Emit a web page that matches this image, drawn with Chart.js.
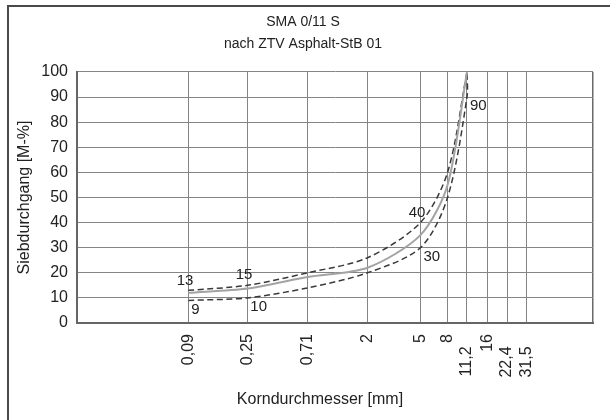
<!DOCTYPE html>
<html>
<head>
<meta charset="utf-8">
<title>SMA 0/11 S – Sieblinienbereich</title>
<style>
  html, body { margin: 0; padding: 0; background: #fff; }
  #box { width: 610px; height: 420px; }
</style>
<script src="https://cdn.jsdelivr.net/npm/chart.js@4"></script>
</head>
<body>
<div id="box"><canvas id="sieve" width="610" height="420"></canvas></div>
<script>
// Sieve sizes [mm] and passing percentages [M-%]
const sieveSizes    = [0.09, 0.25, 0.71, 2, 5, 8, 11.2];
const upperLimit    = [13, 15, 20, 26, 40, 60, 100];
const gradingCurve  = [12, 13.7, 18.3, 22, 35, 55, 100];
const lowerSizes    = [0.09, 0.25, 0.71, 2, 5, 8, 11.2, 11.2];
const lowerLimit    = [9, 10, 14, 20, 30, 50, 90, 100];

// Sieve sizes shown on the x axis and their labels
const axisSieves     = [0.09, 0.25, 0.71, 2, 5, 8, 11.2, 16, 22.4, 31.5];
const axisSieveNames = ['0,09', '0,25', '0,71', '2', '5', '8', '11,2', '16', '22,4', '31,5'];
const passingTicks   = [0, 10, 20, 30, 40, 50, 60, 70, 80, 90, 100];

const X_MIN = 0.0131, X_MAX = 99.2;
const FONT = '"Liberation Sans", Arial, Helvetica, sans-serif';

const toPoints = (xs, ys) => xs.map((x, i) => ({ x, y: ys[i] }));

// Frame and axis captions
const frameAndCaptions = {
  id: 'frameAndCaptions',
  beforeDraw(chart) {
    const { ctx, width, height } = chart;
    ctx.save();
    ctx.fillStyle = '#fff';
    ctx.fillRect(0, 0, width, height);
    ctx.strokeStyle = '#4a4a4a';
    ctx.lineWidth = 2;
    ctx.beginPath();
    ctx.moveTo(8, height);
    ctx.lineTo(8, 6);
    ctx.lineTo(width, 6);
    ctx.stroke();
    ctx.restore();
  },
  afterDraw(chart) {
    const { ctx, chartArea } = chart;
    ctx.save();
    ctx.font = '16px ' + FONT;
    ctx.fillStyle = '#222';
    ctx.textAlign = 'center';
    ctx.textBaseline = 'middle';
    ctx.fillText('Korndurchmesser [mm]', 320, 400);
    ctx.translate(25, (chartArea.top + chartArea.bottom) / 2);
    ctx.rotate(-Math.PI / 2);
    ctx.fillText('Siebdurchgang [M-%]', 0, 0);
    ctx.restore();
  }
};

// Value labels next to selected points of a dataset
const valueLabels = {
  id: 'valueLabels',
  afterDatasetsDraw(chart) {
    const { ctx } = chart;
    chart.data.datasets.forEach((ds, i) => {
      const cfg = ds.valueLabels;
      if (!cfg) return;
      const meta = chart.getDatasetMeta(i);
      ctx.save();
      ctx.font = '15px ' + FONT;
      ctx.fillStyle = '#222';
      ctx.textAlign = cfg.align;
      ctx.textBaseline = 'middle';
      cfg.indices.forEach(k => {
        const el = meta.data[k];
        const txt = String(ds.data[k].y).replace('.', ',');
        ctx.fillText(txt, el.x + cfg.dx, el.y + cfg.dy);
      });
      ctx.restore();
    });
  }
};

Chart.defaults.font.family = FONT;
Chart.defaults.color = '#222';

new Chart(document.getElementById('sieve'), {
  type: 'line',
  data: {
    datasets: [
      {
        label: 'Sieblinie',
        data: toPoints(sieveSizes, gradingCurve),
        borderColor: '#a3a3a3',
        borderWidth: 2,
        pointRadius: 0,
        tension: 0.28
      },
      {
        label: 'obere Grenze',
        data: toPoints(sieveSizes, upperLimit),
        borderColor: '#3a3a3a',
        borderWidth: 1.5,
        borderDash: [6, 3.5],
        pointRadius: 0,
        tension: 0.3,
        valueLabels: { indices: [0, 1, 4], align: 'right', dx: 5, dy: -10 }
      },
      {
        label: 'untere Grenze',
        data: toPoints(lowerSizes, lowerLimit),
        borderColor: '#3a3a3a',
        borderWidth: 1.5,
        borderDash: [6, 3.5],
        pointRadius: 0,
        tension: 0.3,
        valueLabels: { indices: [0, 1, 4, 6], align: 'left', dx: 3, dy: 9 }
      }
    ]
  },
  options: {
    responsive: false,
    animation: false,
    devicePixelRatio: 1,
    layout: { padding: { left: 0, right: 4, top: 0, bottom: 0 } },
    plugins: {
      legend: { display: false },
      tooltip: { enabled: false },
      title: {
        display: true,
        text: ['SMA 0/11 S', 'nach ZTV Asphalt-StB 01'],
        color: '#222',
        font: { size: 14, weight: 'normal', lineHeight: 1.57 },
        padding: { top: 11, bottom: 17 }
      }
    },
    scales: {
      x: {
        type: 'logarithmic',
        min: X_MIN,
        max: X_MAX,
        bounds: 'data',
        afterBuildTicks(scale) {
          scale.ticks = axisSieves.concat([X_MAX]).map(v => ({ value: v }));
        },
        afterFit(scale) {
          scale.height = 97;
          scale.paddingLeft = 0;
          scale.paddingRight = 17;
        },
        ticks: {
          autoSkip: false,
          minRotation: 90,
          maxRotation: 90,
          padding: 11,
          font: { size: 16 },
          callback(value, index) {
            const name = axisSieveNames[index];
            if (name === undefined) return '';
            // the three crowded coarse sieves are set a little lower
            return [6, 8, 9].includes(index) ? name + '\u2002 ' : name;
          }
        },
        grid: {
          drawTicks: false,
          color: ctx => (ctx.tick && ctx.tick.value === X_MAX ? '#6a6a6a' : '#858585'),
          lineWidth: ctx => (ctx.tick && ctx.tick.value === X_MAX ? 1.5 : 1)
        },
        border: { color: '#666', width: 2 }
      },
      y: {
        min: 0,
        max: 100,
        afterBuildTicks(scale) {
          scale.ticks = passingTicks.map(v => ({ value: v }));
        },
        afterFit(scale) {
          scale.width = 77;
          scale.paddingTop = 0;
          scale.paddingBottom = 0;
        },
        ticks: {
          padding: 9,
          font: { size: 16 }
        },
        grid: { drawTicks: false, color: '#858585', lineWidth: 1 },
        border: { color: '#666', width: 2 }
      }
    }
  },
  plugins: [frameAndCaptions, valueLabels]
});
</script>
</body>
</html>
